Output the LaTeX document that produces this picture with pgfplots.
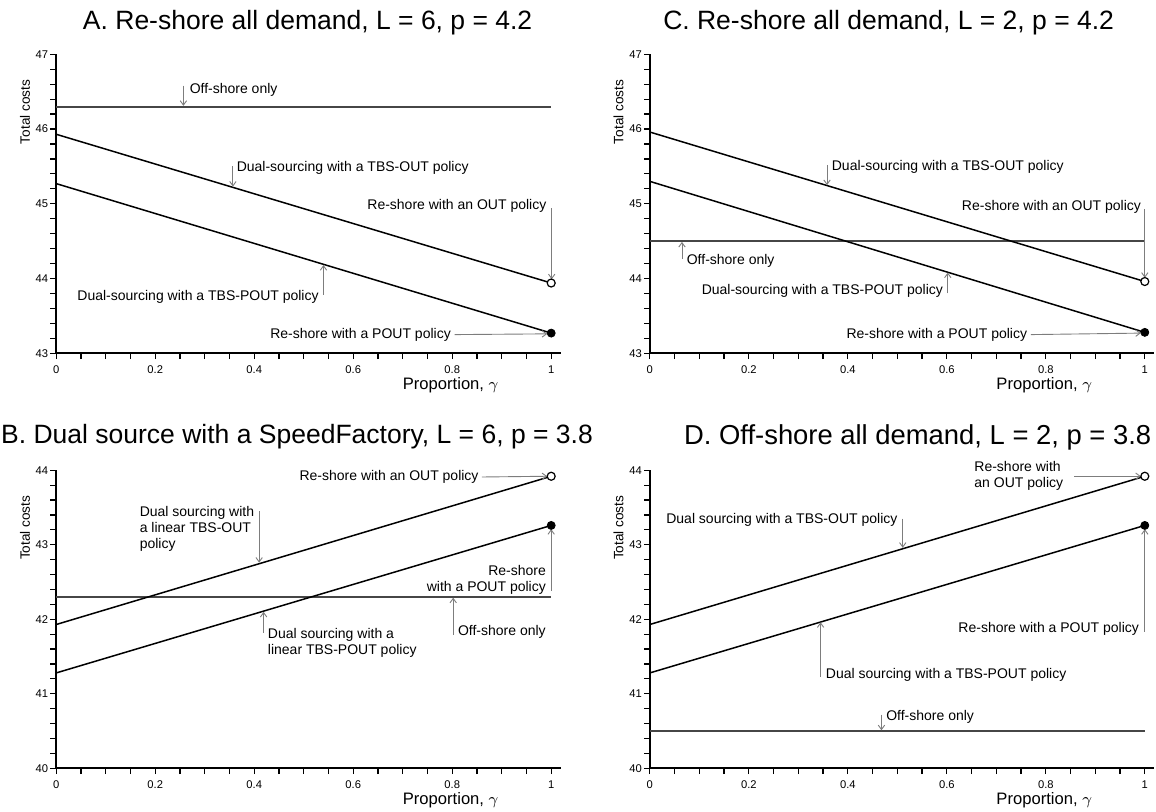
\documentclass[border=0pt]{standalone}
\usepackage{fontspec}
\setmainfont{Liberation Sans}
\usepackage{pgfplots}
\pgfplotsset{compat=1.18}
\usetikzlibrary{arrows.meta}

\definecolor{offgray}{RGB}{70,70,70}
\definecolor{arrgray}{RGB}{125,125,125}

\pgfplotsset{
  panel/.style={
    scale only axis, anchor=south west,
    width=252.2pt,
    axis lines=left, axis line style={-, line width=0.8pt},
    xmin=0, xmax=1.019, enlargelimits=false,
    xtick={0,0.2,0.4,0.6,0.8,1}, minor x tick num=3,
    ytick distance=1, minor y tick num=4,
    tick align=outside, major tick length=2.9pt, minor tick length=2.9pt,
    every tick/.style={black, line width=0.6pt},
    tick label style={font=\fontsize{5.6}{6.5}\selectfont},
    yticklabel style={inner xsep=0.9pt},
    /pgf/number format/assume math mode=true,
    xlabel={Proportion, $\gamma$},
    ylabel={Total costs},
    xlabel style={at={(rel axis cs:0.782,-0.107)}, anchor=center, font=\fontsize{8.3}{10}\selectfont},
    ylabel style={at={(rel axis cs:-0.062,0.807)}, anchor=center, font=\fontsize{6.8}{8}\selectfont},
    title style={anchor=center, yshift=-6pt, font=\fontsize{13.25}{15}\selectfont},
    clip=false,
  },
  ln/.style={black, line width=0.75pt, no markers},
  off/.style={offgray, line width=0.9pt, no markers},
  opendot/.style={only marks, mark=*, mark size=2pt, mark options={fill=white, draw=black, line width=0.6pt}},
  fulldot/.style={only marks, mark=*, mark size=2pt, mark options={fill=black, draw=black}},
}
\tikzset{
  note/.style={font=\fontsize{7}{8}\selectfont, inner sep=0pt},
  arr/.style={arrgray, line width=0.45pt, -{Straight Barb[length=2.2pt,width=3.2pt]}},
}

\begin{document}
\begin{tikzpicture}
\path[use as bounding box] (0pt,0pt) rectangle (578pt,406pt);

% A
\begin{axis}[panel, at={(28.1pt,229.35pt)}, height=149.5pt, ymin=43, ymax=47,
  title={A. Re-shore all demand, L = 6, p = 4.2},
  title style={at={(rel axis cs:0.4985,1.106)}}]
\addplot[off] coordinates {(0,46.3) (1,46.3)};
\addplot[ln] coordinates {(0,45.93) (1,43.94)};
\addplot[ln] coordinates {(0,45.27) (1,43.27)};
\addplot[opendot] coordinates {(1,43.94)};
\addplot[fulldot] coordinates {(1,43.27)};
\node[note, anchor=west] at (axis cs:0.269,46.52) {Off-shore only};
\draw[arr] (axis cs:0.257,46.58) -- (axis cs:0.257,46.31);
\node[note, anchor=west] at (axis cs:0.364,45.48) {Dual-sourcing with a TBS-OUT policy};
\draw[arr] (axis cs:0.357,45.50) -- (axis cs:0.357,45.23);
\node[note, anchor=east] at (axis cs:0.991,44.97) {Re-shore with an OUT policy};
\draw[arr] (axis cs:1.001,44.94) -- (axis cs:1.001,43.99);
\node[note, anchor=east] at (axis cs:0.531,43.75) {Dual-sourcing with a TBS-POUT policy};
\draw[arr] (axis cs:0.540,43.78) -- (axis cs:0.540,44.18);
\node[note, anchor=east] at (axis cs:0.798,43.24) {Re-shore with a POUT policy};
\draw[arr] (axis cs:0.805,43.25) -- (axis cs:0.992,43.26);
\end{axis}

% C
\begin{axis}[panel, at={(324.9pt,229.35pt)}, height=149.5pt, ymin=43, ymax=47,
  title={C. Re-shore all demand, L = 2, p = 4.2},
  title style={at={(rel axis cs:0.4735,1.106)}}]
\addplot[off] coordinates {(0,44.5) (1,44.5)};
\addplot[ln] coordinates {(0,45.96) (1,43.96)};
\addplot[ln] coordinates {(0,45.30) (1,43.28)};
\addplot[opendot] coordinates {(1,43.96)};
\addplot[fulldot] coordinates {(1,43.28)};
\node[note, anchor=west] at (axis cs:0.367,45.49) {Dual-sourcing with a TBS-OUT policy};
\draw[arr] (axis cs:0.358,45.52) -- (axis cs:0.358,45.25);
\node[note, anchor=east] at (axis cs:0.993,44.96) {Re-shore with an OUT policy};
\draw[arr] (axis cs:1.0,44.93) -- (axis cs:1.0,44.01);
\node[note, anchor=west] at (axis cs:0.074,44.24) {Off-shore only};
\draw[arr] (axis cs:0.065,44.26) -- (axis cs:0.065,44.49);
\node[note, anchor=east] at (axis cs:0.593,43.83) {Dual-sourcing with a TBS-POUT policy};
\draw[arr] (axis cs:0.602,43.80) -- (axis cs:0.602,44.08);
\node[note, anchor=east] at (axis cs:0.763,43.25) {Re-shore with a POUT policy};
\draw[arr] (axis cs:0.770,43.25) -- (axis cs:0.992,43.27);
\end{axis}

% B
\begin{axis}[panel, at={(28.1pt,21.85pt)}, height=149pt, ymin=40, ymax=44,
  title={B. Dual source with a SpeedFactory, L = 6, p = 3.8},
  title style={at={(rel axis cs:0.4775,1.112)}}]
\addplot[off] coordinates {(0,42.3) (1,42.3)};
\addplot[ln] coordinates {(0,41.93) (1,43.92)};
\addplot[ln] coordinates {(0,41.28) (1,43.26)};
\addplot[opendot] coordinates {(1,43.92)};
\addplot[fulldot] coordinates {(1,43.26)};
\node[note, anchor=east] at (axis cs:0.854,43.91) {Re-shore with an OUT policy};
\draw[arr] (axis cs:0.860,43.91) -- (axis cs:0.992,43.92);
\node[note, anchor=west, align=left] at (axis cs:0.168,43.21) {Dual sourcing with\\a linear TBS-OUT\\policy};
\draw[arr] (axis cs:0.410,43.45) -- (axis cs:0.410,42.76);
\node[note, anchor=east, align=right] at (axis cs:0.990,42.53) {Re-shore\\with a POUT policy};
\draw[arr] (axis cs:1.0,42.38) -- (axis cs:1.0,43.21);
\node[note, anchor=west] at (axis cs:0.811,41.83) {Off-shore only};
\draw[arr] (axis cs:0.802,41.79) -- (axis cs:0.802,42.29);
\node[note, anchor=west, align=left] at (axis cs:0.427,41.685) {Dual sourcing with a\\linear TBS-POUT policy};
\draw[arr] (axis cs:0.419,41.82) -- (axis cs:0.419,42.10);
\end{axis}

% D
\begin{axis}[panel, at={(324.9pt,21.85pt)}, height=149pt, ymin=40, ymax=44,
  title={D. Off-shore all demand, L = 2, p = 3.8},
  title style={at={(rel axis cs:0.531,1.112)}, font=\fontsize{13.7}{15}\selectfont}]
\addplot[off] coordinates {(0,40.5) (1,40.5)};
\addplot[ln] coordinates {(0,41.93) (1,43.92)};
\addplot[ln] coordinates {(0,41.28) (1,43.26)};
\addplot[opendot] coordinates {(1,43.92)};
\addplot[fulldot] coordinates {(1,43.26)};
\node[note, anchor=west, align=left] at (axis cs:0.655,43.92) {Re-shore with\\an OUT policy};
\draw[arr] (axis cs:0.857,43.92) -- (axis cs:0.992,43.92);
\node[note, anchor=east] at (axis cs:0.501,43.33) {Dual sourcing with a TBS-OUT policy};
\draw[arr] (axis cs:0.511,43.35) -- (axis cs:0.511,42.96);
\node[note, anchor=east] at (axis cs:0.989,41.87) {Re-shore with a POUT policy};
\draw[arr] (axis cs:1.0,41.83) -- (axis cs:1.0,43.21);
\node[note, anchor=west] at (axis cs:0.355,41.25) {Dual sourcing with a TBS-POUT policy};
\draw[arr] (axis cs:0.345,41.23) -- (axis cs:0.345,41.96);
\node[note, anchor=west] at (axis cs:0.477,40.69) {Off-shore only};
\draw[arr] (axis cs:0.468,40.72) -- (axis cs:0.468,40.51);
\end{axis}
\end{tikzpicture}
\end{document}
